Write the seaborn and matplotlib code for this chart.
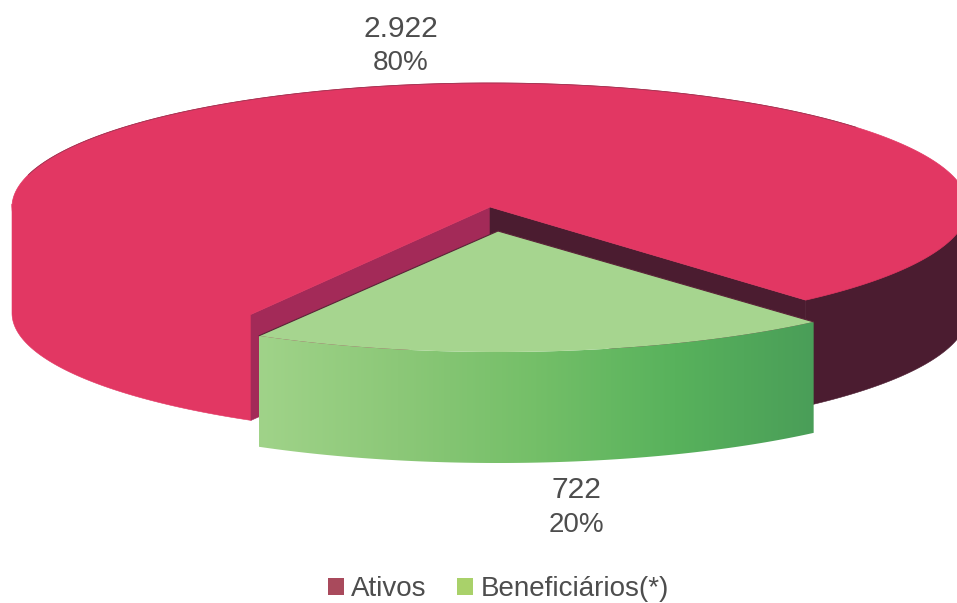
import numpy as np
import pandas as pd
import seaborn as sns
import matplotlib
matplotlib.use("Agg")
import matplotlib.pyplot as plt
from matplotlib.patches import Polygon, Patch

# Data
categories = ["Ativos", "Beneficiários(*)"]
values = [2922, 722]
value_labels = ["2.922", "722"]
pct_labels = ["80%", "20%"]
legend_colors = ["#a94a5c", "#a9d16a"]

# Geometry of the fake 3D pie, in pixels of the 957x603 picture
cx, cy = 490, 207
rx, ry = 478, 124
depth = 106
green_dx, green_dy = 8, 24
green_ry = 121
green_depth = 111
start_angle = -120

red_top = "#e23763"
red_dark = "#4b1c30"
red_wall = "#a32a58"
green_top = "#a6d58f"
green_shades = ["#a0d389", "#8cc878", "#74bf68", "#58b25c", "#4a9e58"]


def arc(theta1, theta2, x0, y0, drop=0, n=200, r_y=ry):
    t = np.radians(np.linspace(theta1, theta2, n))
    return np.column_stack([x0 + rx * np.cos(t), y0 - r_y * np.sin(t) + drop])


def band_points(theta1, theta2, x0, y0, drop, r_y=ry):
    top = arc(theta1, theta2, x0, y0, r_y=r_y)
    bottom = arc(theta1, theta2, x0, y0, drop, r_y=r_y)[::-1]
    return np.vstack([top, bottom])


def draw_pie(ax, df):
    share = df["value"] / df["value"].sum()
    end_angle = start_angle + 360 * share.iloc[1]

    # red side, left part and dark right part (started a bit higher so no seam shows under the top)
    for t1, t2, color in [(180, 360 + start_angle, red_top), (end_angle, 0, red_dark)]:
        ax.add_patch(Polygon(band_points(t1, t2, cx, cy - 3, depth + 3), closed=True, fc=color, ec=color, lw=0.4))

    # inner walls of the cut out wedge
    left = arc(start_angle, start_angle, cx, cy, n=1)[0]
    right = arc(end_angle, end_angle, cx, cy, n=1)[0]
    for corner, color in [(left, red_wall), (right, red_dark)]:
        wall = [(cx, cy), corner, corner + [0, depth], (cx, cy + depth)]
        ax.add_patch(Polygon(wall, closed=True, fc=color, ec=color, lw=0.4))

    # red top
    rim = arc(end_angle, 360 + start_angle, cx, cy, n=500)
    ax.add_patch(Polygon(np.vstack([[(cx, cy)], rim]), closed=True, fc=red_top, ec=red_top, lw=0.5))
    back = arc(40, 165, cx, cy)
    ax.plot(back[:, 0], back[:, 1], color="#9c3350", lw=0.6)

    # green slice, pulled out of the pie, side with a left to right gradient
    gx, gy = cx + green_dx, cy + green_dy
    side = band_points(start_angle, end_angle, gx, gy, green_depth, r_y=green_ry)
    shades = np.array(sns.blend_palette(green_shades, 256))[np.newaxis, :, :3]
    im = ax.imshow(shades, aspect="auto", interpolation="bilinear", zorder=3,
                   extent=[side[:, 0].min(), side[:, 0].max(), side[:, 1].max(), side[:, 1].min()])
    clip = Polygon(side, closed=True, transform=ax.transData)
    im.set_clip_path(clip)

    rim = arc(start_angle, end_angle, gx, gy, r_y=green_ry)
    ax.add_patch(Polygon(np.vstack([[(gx, gy)], rim]), closed=True, fc=green_top, ec="none", zorder=4))
    ax.plot([rim[0, 0], gx, rim[-1, 0]], [rim[0, 1], gy, rim[-1, 1]], color="#5a2438", lw=0.8, zorder=4)


def main():
    sns.set_theme(style="white")
    plt.rcParams["font.family"] = ["Liberation Sans", "DejaVu Sans"]
    df = pd.DataFrame({"category": categories, "value": values})

    fig = plt.figure(figsize=(9.57, 6.03), dpi=100)
    ax = fig.add_axes([0, 0, 1, 1])

    draw_pie(ax, df)

    ax.set_xlim(0, 957)
    ax.set_ylim(603, 0)
    ax.axis("off")

    text_color = "#4d4d4d"
    ax.text(401, 37, value_labels[0], ha="center", va="baseline", fontsize=21.5, color=text_color)
    ax.text(401, 70, pct_labels[0], ha="center", va="baseline", fontsize=20, color=text_color)
    ax.text(576, 498, value_labels[1], ha="center", va="baseline", fontsize=21.5, color=text_color)
    ax.text(576, 532, pct_labels[1], ha="center", va="baseline", fontsize=20, color=text_color)

    handles = [Patch(fc=c, ec="none", label=l) for c, l in zip(legend_colors, categories)]
    fig.legend(handles=handles, loc="lower center", bbox_to_anchor=(498.5 / 957, 0.001), ncol=2,
               frameon=False, fontsize=20, labelcolor=text_color, borderpad=0, borderaxespad=0,
               handlelength=0.58, handleheight=0.58, handletextpad=0.25, columnspacing=1.1)

    fig.savefig("out.png", dpi=100)


if __name__ == "__main__":
    main()
